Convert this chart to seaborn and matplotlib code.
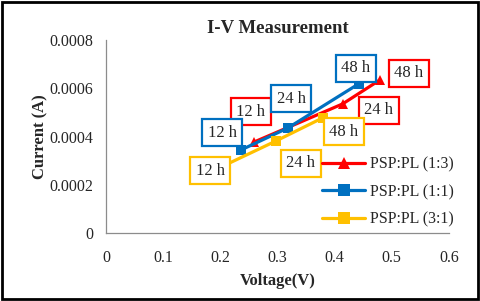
import pandas as pd
import numpy as np
import matplotlib.pyplot as plt
import seaborn as sns
from matplotlib.patches import Rectangle

# data
series = ["PSP:PL (1:3)", "PSP:PL (1:1)", "PSP:PL (3:1)"]
times = ["12 h", "24 h", "48 h"]
volt_13 = [0.259, 0.414, 0.479]
curr_13 = [0.000377, 0.000535, 0.000634]
volt_11 = [0.236, 0.318, 0.442]
curr_11 = [0.000344, 0.000435, 0.000618]
volt_31 = [0.183, 0.297, 0.379]
curr_31 = [0.000253, 0.000381, 0.000477]

# label box centres (data coords) for each series/time
lab_x_13 = [0.253, 0.477, 0.530]
lab_y_13 = [0.000502, 0.000509, 0.000663]
lab_x_11 = [0.203, 0.324, 0.437]
lab_y_11 = [0.000415, 0.000557, 0.000683]
lab_x_31 = [0.182, 0.341, 0.416]
lab_y_31 = [0.000257, 0.000290, 0.000419]

colors = ["#FF0000", "#0070C0", "#FFC000"]
markers = ["^", "s", "s"]

df = pd.DataFrame({
    "Voltage": volt_13 + volt_11 + volt_31,
    "Current": curr_13 + curr_11 + curr_31,
    "Series": [series[0]] * 3 + [series[1]] * 3 + [series[2]] * 3,
})

sns.set_style("white")
plt.rcParams["font.family"] = ["Liberation Serif", "DejaVu Serif"]

fig = plt.figure(figsize=(4.8, 3.01), dpi=100)
ax = fig.add_axes([0.221, 0.226, 0.714, 0.641])

sns.lineplot(data=df, x="Voltage", y="Current", hue="Series", style="Series",
             palette=dict(zip(series, colors)), markers=dict(zip(series, markers)),
             dashes=False, linewidth=2.3, markersize=7.5, markeredgewidth=0,
             sort=False, ax=ax)

ax.set_xlim(0, 0.6)
ax.set_ylim(0, 0.0008)
ax.set_xticks(np.arange(0, 0.61, 0.1))
ax.set_xticklabels(["0", "0.1", "0.2", "0.3", "0.4", "0.5", "0.6"])
ax.set_yticks(np.arange(0, 0.00081, 0.0002))
ax.set_yticklabels(["0", "0.0002", "0.0004", "0.0006", "0.0008"])
ax.tick_params(labelsize=11.5, length=0)
ax.tick_params(axis="y", pad=9)
ax.tick_params(axis="x", pad=12)
for s in ["top", "right"]:
    ax.spines[s].set_visible(False)
for s in ["left", "bottom"]:
    ax.spines[s].set_color("#8c8c8c")
    ax.spines[s].set_linewidth(0.9)

ax.set_xlabel("Voltage(V)", fontsize=12, fontweight="bold", labelpad=5)
ax.set_ylabel("Current (A)", fontsize=12, fontweight="bold", labelpad=1)
ax.set_title("I-V Measurement", fontsize=13.5, fontweight="bold", pad=5)

for lx, ly, c in [(lab_x_13, lab_y_13, colors[0]), (lab_x_11, lab_y_11, colors[1]),
                  (lab_x_31, lab_y_31, colors[2])]:
    for x, y, t in zip(lx, ly, times):
        ax.text(x, y, t, fontsize=12, ha="center", va="center", zorder=5,
                bbox=dict(boxstyle="square,pad=0.33", fc="white", ec=c, lw=1.6))

leg = ax.legend(loc="center left", bbox_to_anchor=(0.63, 0.212), frameon=False,
                fontsize=11.5, handlelength=2.7, labelspacing=0.7, handletextpad=0.3,
                borderpad=0, borderaxespad=0, markerscale=1.2)

fig.patches.append(Rectangle((0.004, 0.006), 0.992, 0.988, transform=fig.transFigure,
                             fill=False, ec="black", lw=2))

fig.savefig("out.png", dpi=100)
